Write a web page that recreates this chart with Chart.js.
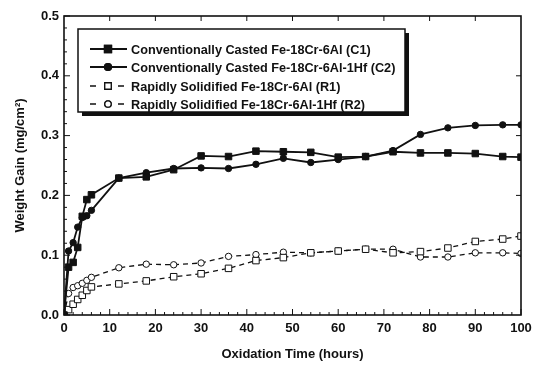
<!DOCTYPE html>
<html>
<head>
<meta charset="utf-8">
<script src="https://cdn.jsdelivr.net/npm/chart.js@4.4.1/dist/chart.umd.min.js"></script>
<style>
  html, body { margin: 0; padding: 0; background: #fff; }
  #wrap { width: 539px; height: 372px; position: relative; }
</style>
</head>
<body>
<div id="wrap"><canvas id="chart"></canvas></div>
<script>
const FONT = "'Liberation Sans', Arial, sans-serif";
const INK = "#111";

const hours = [0, 1, 2, 3, 4, 5, 6, 12, 18, 24, 30, 36, 42, 48, 54, 60, 66, 72, 78, 84, 90, 96, 100];
const c1 = [0, 0.080, 0.088, 0.113, 0.165, 0.193, 0.201, 0.229, 0.231, 0.243, 0.266, 0.265, 0.274, 0.273, 0.272, 0.264, 0.265, 0.273, 0.271, 0.271, 0.270, 0.265, 0.264];
const c2 = [0, 0.107, 0.121, 0.147, 0.163, 0.166, 0.175, 0.229, 0.238, 0.245, 0.246, 0.245, 0.252, 0.262, 0.255, 0.260, 0.265, 0.275, 0.302, 0.313, 0.317, 0.318, 0.318];
const r1 = [0, 0.009, 0.018, 0.026, 0.033, 0.041, 0.047, 0.052, 0.057, 0.064, 0.069, 0.078, 0.091, 0.096, 0.104, 0.107, 0.110, 0.104, 0.106, 0.112, 0.123, 0.127, 0.132];
const r2 = [0, 0.036, 0.046, 0.049, 0.053, 0.058, 0.063, 0.079, 0.085, 0.084, 0.087, 0.098, 0.101, 0.105, 0.104, 0.107, 0.110, 0.110, 0.097, 0.097, 0.104, 0.104, 0.103];

const seriesNames = [
    "Conventionally Casted Fe-18Cr-6Al (C1)",
    "Conventionally Casted Fe-18Cr-6Al-1Hf (C2)",
    "Rapidly Solidified Fe-18Cr-6Al (R1)",
    "Rapidly Solidified Fe-18Cr-6Al-1Hf (R2)"
];
const xTicks = [0, 10, 20, 30, 40, 50, 60, 70, 80, 90, 100];
const yTicks = [0, 0.1, 0.2, 0.3, 0.4, 0.5];

function makeSet(label, values, style, filled, dashed) {
    return {
        label: label,
        data: hours.map((h, i) => ({ x: h, y: values[i] })),
        borderColor: INK,
        borderWidth: dashed ? 1.3 : 1.8,
        borderDash: dashed ? [5, 4] : [],
        pointStyle: style,
        pointRadius: style === "rect" ? 4.6 : 3.2,
        pointBorderWidth: 1,
        pointBorderColor: INK,
        pointBackgroundColor: filled ? INK : "#fff",
        tension: 0,
        fill: false
    };
}

// inward ticks and frame round the plot area
const framePlugin = {
    id: "frame",
    afterDatasetsDraw(chart) {
        const ctx = chart.ctx;
        const a = chart.chartArea;
        const xs = chart.scales.x;
        const ys = chart.scales.y;
        ctx.save();
        ctx.strokeStyle = INK;
        ctx.lineWidth = 1;
        ctx.beginPath();
        for (let v = 0; v <= 100; v += 2) {
            const px = xs.getPixelForValue(v);
            const len = v % 10 === 0 ? 6 : 3;
            ctx.moveTo(px, a.bottom);
            ctx.lineTo(px, a.bottom - len);
            if (v % 10 === 0 && v > 0 && v < 100) {
                ctx.moveTo(px, a.top);
                ctx.lineTo(px, a.top + 5);
            }
        }
        for (let k = 0; k <= 25; k++) {
            const v = k * 0.02;
            const py = ys.getPixelForValue(v);
            const len = k % 5 === 0 ? 6 : 3;
            ctx.moveTo(a.left, py);
            ctx.lineTo(a.left + len, py);
            if (k % 5 === 0 && k > 0 && k < 25) {
                ctx.moveTo(a.right, py);
                ctx.lineTo(a.right - 5, py);
            }
        }
        ctx.stroke();
        ctx.lineWidth = 1.6;
        ctx.strokeRect(a.left, a.top, a.right - a.left, a.bottom - a.top);
        ctx.restore();
    }
};

// boxed legend inside the plot, with a drop shadow
const legendPlugin = {
    id: "boxLegend",
    afterDraw(chart) {
        const ctx = chart.ctx;
        const box = { left: 78, top: 29, right: 405, bottom: 112 };
        const rows = [49, 67, 86, 104];
        ctx.save();
        ctx.fillStyle = INK;
        ctx.fillRect(box.left + 4, box.bottom, box.right - box.left, 4);
        ctx.fillRect(box.right, box.top + 4, 4, box.bottom - box.top);
        ctx.fillStyle = "#fff";
        ctx.fillRect(box.left, box.top, box.right - box.left, box.bottom - box.top);
        ctx.strokeStyle = INK;
        ctx.lineWidth = 1.5;
        ctx.strokeRect(box.left, box.top, box.right - box.left, box.bottom - box.top);

        chart.data.datasets.forEach((ds, i) => {
            const y = rows[i];
            ctx.strokeStyle = INK;
            ctx.lineWidth = ds.borderWidth;
            ctx.setLineDash(ds.borderDash.length ? [6, 8] : []);
            ctx.beginPath();
            ctx.moveTo(90, y);
            ctx.lineTo(127, y);
            ctx.stroke();
            ctx.setLineDash([]);
            Chart.helpers.drawPoint(ctx, {
                pointStyle: ds.pointStyle,
                radius: ds.pointRadius,
                borderWidth: 1,
                rotation: 0
            }, 108, y);
            ctx.fillStyle = ds.pointBackgroundColor;
            ctx.fill();
            ctx.stroke();
            ctx.fillStyle = INK;
            ctx.font = "bold 12.7px " + FONT;
            ctx.textBaseline = "middle";
            ctx.fillText(ds.label, 131, y + 1);
        });
        ctx.restore();
    }
};

const config = {
    type: "line",
    data: {
        datasets: [
            makeSet(seriesNames[0], c1, "rect", true, false),
            makeSet(seriesNames[1], c2, "circle", true, false),
            makeSet(seriesNames[2], r1, "rect", false, true),
            makeSet(seriesNames[3], r2, "circle", false, true)
        ]
    },
    options: {
        responsive: true,
        maintainAspectRatio: false,
        animation: false,
        layout: { padding: { top: 16, right: 18, left: 0, bottom: 0 } },
        plugins: {
            legend: { display: false },
            tooltip: { enabled: false }
        },
        scales: {
            x: {
                type: "linear",
                min: 0,
                max: 100,
                afterFit: (s) => { s.height = 57; },
                afterBuildTicks: (s) => { s.ticks = xTicks.map((v) => ({ value: v })); },
                grid: { display: false, drawTicks: false },
                border: { display: false },
                ticks: {
                    color: INK,
                    padding: 6,
                    font: { family: FONT, size: 13, weight: "bold" },
                    maxRotation: 0
                },
                title: {
                    display: true,
                    text: "Oxidation Time (hours)",
                    color: INK,
                    padding: { top: 0, bottom: 10 },
                    font: { family: FONT, size: 13, weight: "bold" }
                }
            },
            y: {
                type: "linear",
                min: 0,
                max: 0.5,
                afterFit: (s) => { s.width = 64; },
                afterBuildTicks: (s) => { s.ticks = yTicks.map((v) => ({ value: v })); },
                grid: { display: false, drawTicks: false },
                border: { display: false },
                ticks: {
                    color: INK,
                    padding: 5,
                    font: { family: FONT, size: 13, weight: "bold" },
                    callback: (v) => Number(v).toFixed(1)
                },
                title: {
                    display: true,
                    text: "Weight Gain (mg/cm²)",
                    color: INK,
                    padding: { top: 13, bottom: 0 },
                    font: { family: FONT, size: 13, weight: "bold" }
                }
            }
        }
    },
    plugins: [framePlugin, legendPlugin]
};

new Chart(document.getElementById("chart"), config);
</script>
</body>
</html>
